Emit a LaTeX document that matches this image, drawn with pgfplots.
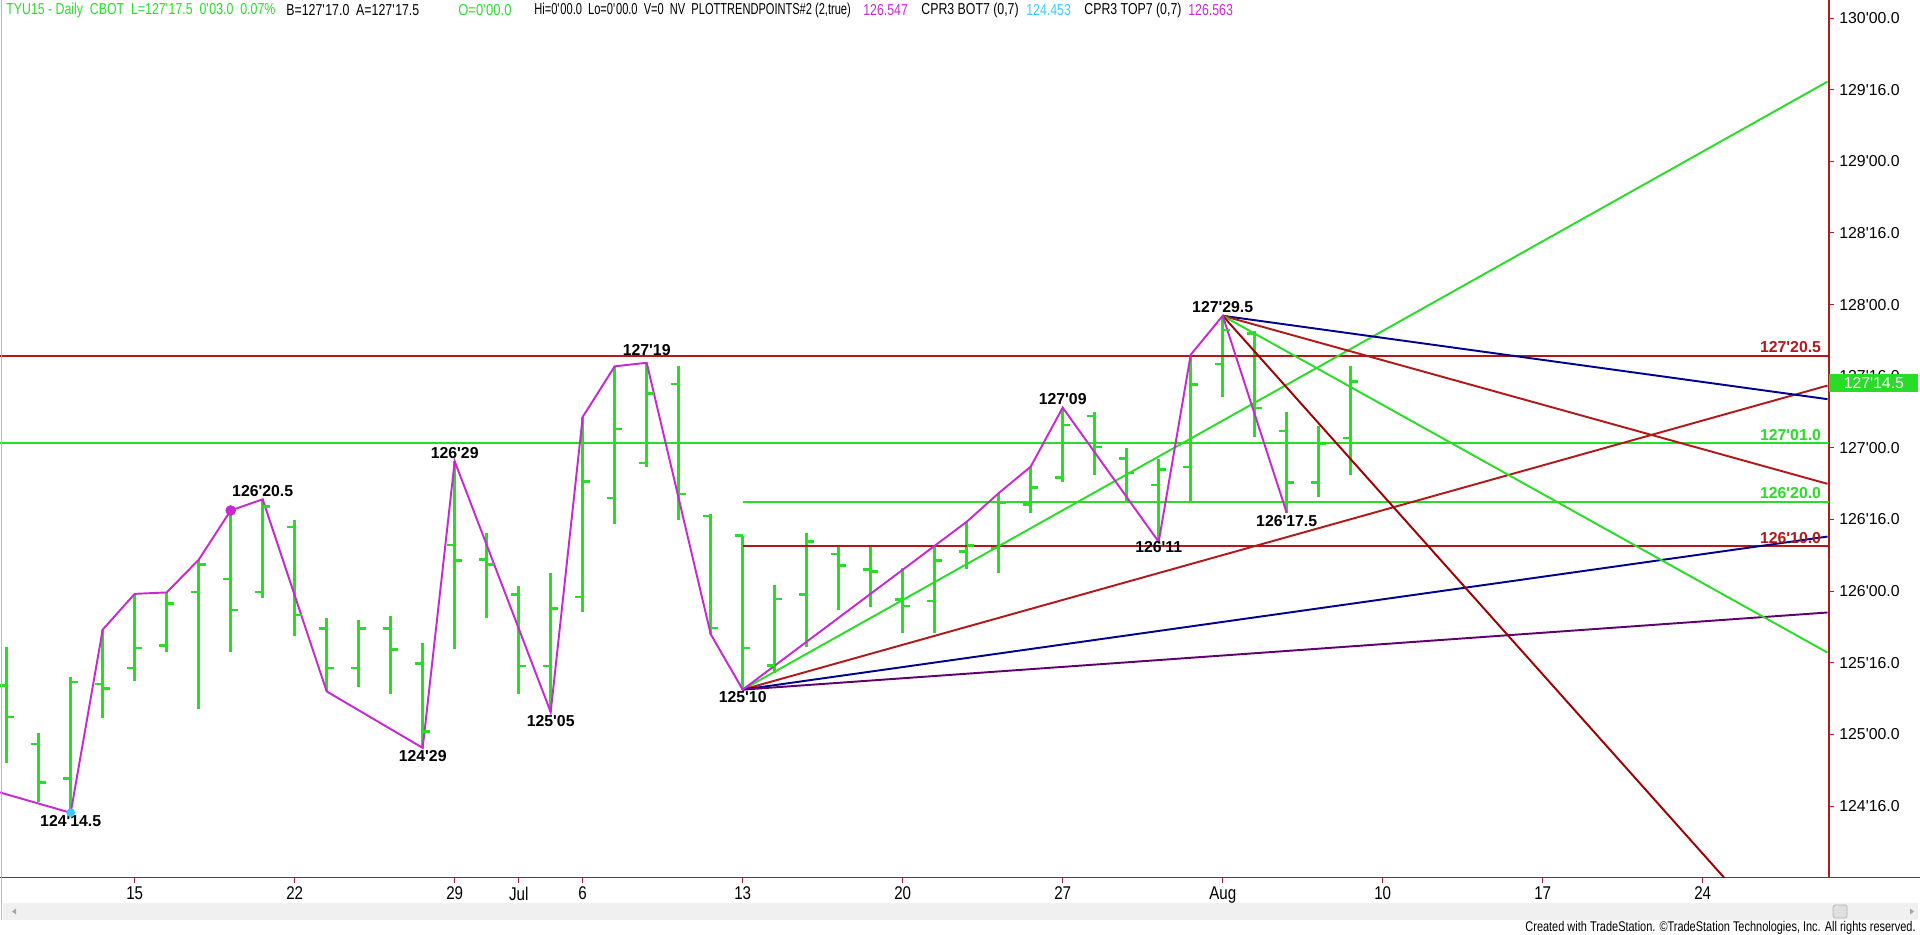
\documentclass[border=0pt]{standalone}
\usepackage{fontspec}
\setmainfont{Liberation Sans}
\newfontfamily\narrow[FakeStretch=0.82]{Liberation Sans}
\newfontfamily\ttlfont[FakeStretch=0.78]{Liberation Sans}
\newfontfamily\ttlfontn[FakeStretch=0.70]{Liberation Sans}
\usepackage{pgfplots}
\usepackage{pgfplotstable}
\pgfplotsset{compat=1.18}

\definecolor{barGreen}{RGB}{40,220,40}
\definecolor{lvlRed}{RGB}{178,24,24}
\definecolor{darkRed}{RGB}{160,0,0}
\definecolor{navyLine}{RGB}{0,0,140}
\definecolor{violetLine}{RGB}{95,0,110}
\definecolor{swing}{RGB}{200,40,210}
\definecolor{axisRed}{RGB}{170,30,30}
\definecolor{cyanDot}{RGB}{60,200,255}

\newcommand{\q}{\textquotesingle}
\tikzset{lbl/.style={font=\bfseries\fontsize{9}{10}\selectfont, inner sep=1.5pt}}

% open tick to the left, close tick to the right
\pgfdeclareplotmark{otick}{\pgfpathmoveto{\pgfqpoint{-0.15cm}{0pt}}\pgfpathlineto{\pgfqpoint{0pt}{0pt}}\pgfusepathqstroke}
\pgfdeclareplotmark{ctick}{\pgfpathmoveto{\pgfqpoint{0pt}{0pt}}\pgfpathlineto{\pgfqpoint{0.15cm}{0pt}}\pgfusepathqstroke}

% daily bars, x = trading day (0 = Jun 9)
\pgfplotstableread{
x  op      hi      lo       cl
0  125.341 125.609 124.800  125.122
1  124.934 125.013 124.531  124.666
2  124.694 125.403 124.453  125.366
3  125.353 125.731 125.113  125.322
4  125.463 125.981 125.375  125.603
5  125.619 125.991 125.578  125.916
6  125.994 126.219 125.175  126.184
7  126.084 126.563 125.578  125.869
8  125.994 126.641 125.950  126.591
9  126.447 126.494 125.688  125.834
10 125.741 125.813 125.300  125.463
11 125.463 125.800 125.331  125.741
12 125.741 125.828 125.284  125.591
13 125.494 125.638 124.906  125.022
14 126.322 126.906 125.594  126.213
15 126.222 126.403 125.813  126.184
16 125.978 126.038 125.284  125.478
17 125.478 126.125 125.156  125.881
18 125.959 127.216 125.856  126.766
19 126.650 127.569 126.469  127.131
20 126.894 127.594 126.866  127.381
21 127.447 127.572 126.494  126.678
22 126.525 126.541 125.700  125.744
23 126.388 126.388 125.3125 125.603
24 125.481 126.044 125.428  125.944
25 125.978 126.403 125.609  126.347
26 126.259 126.313 125.866  126.178
27 126.150 126.313 125.888  126.138
28 125.941 126.159 125.706  125.897
29 125.931 126.313 125.706  126.213
30 126.275 126.484 126.153  126.319
31 126.300 126.684 126.125  126.619
32 126.603 126.869 126.544  126.725
33 126.794 127.281 126.759  127.160
34 127.222 127.247 126.813  127.005
35 126.928 126.998 126.625  126.825
36 126.741 126.922 126.344  126.850
37 126.866 127.650 126.631  127.444
38 127.586 127.922 127.353  127.823
39 127.800 127.813 127.078  127.278
40 127.119 127.247 126.547  126.759
41 126.759 127.150 126.656  127.028
42 127.068 127.569 126.813  127.463
}\ohlc

% trend points line
\pgfplotstableread{
x      y
-0.209 124.595
2      124.453
3      125.731
4      125.981
5      125.991
6      126.219
7      126.563
8      126.641
10     125.300
13     124.906
14     126.906
17     125.156
18     127.216
19     127.569
20     127.594
22     125.700
23     125.3125
30     126.484
31     126.684
32     126.869
33     127.281
36     126.344
37     127.650
38     127.922
40     126.547
}\swingtab

\begin{document}
\begin{tikzpicture}
\useasboundingbox (0,0) rectangle (38.4,18.68);
\begin{axis}[
    at={(0,1.126cm)}, anchor=south west,
    scale only axis, width=36.58cm, height=17.554cm,
    xmin=-0.209, xmax=56.947, ymin=124, ymax=130.126,
    axis x line*=bottom, axis y line*=right,
    axis line style={draw=axisRed, line width=0.8pt},
    tick align=outside, major tick length=0.1cm,
    tick style={draw=axisRed, line width=0.6pt},
    ytick={124.5,125,125.5,126,126.5,127,127.5,128,128.5,129,129.5,130},
    yticklabels={124\q16.0,125\q00.0,125\q16.0,126\q00.0,126\q16.0,127\q00.0,
                 127\q16.0,128\q00.0,128\q16.0,129\q00.0,129\q16.0,130\q00.0},
    xtick={4,9,14,16,18,23,28,33,38,43,48,53},
    xticklabels={15,22,29,Jul,6,13,20,27,Aug,10,17,24},
    yticklabel style={anchor=west, inner sep=0pt, font=\fontsize{9}{10}\selectfont},
    xticklabel style={anchor=north, inner sep=0pt, font=\narrow\fontsize{10.5}{11}\selectfont},
    yticklabel shift=0.1cm, xticklabel shift=0.08cm,
    clip=false,
]
% bars
\addplot[draw=none, forget plot, error bars/.cd, y dir=plus, y explicit, error mark=none,
    error bar style={draw=barGreen, line width=1.8pt}]
    table[x=x, y=lo, y error plus expr=\thisrow{hi}-\thisrow{lo}] {\ohlc};
\addplot[barGreen, only marks, mark=otick, line width=1.5pt] table[x=x, y=op] {\ohlc};
\addplot[barGreen, only marks, mark=ctick, line width=1.5pt] table[x=x, y=cl] {\ohlc};

% levels
\addplot[lvlRed, line width=1.1pt] coordinates {(-0.209,127.6406) (56.947,127.6406)};
\addplot[barGreen, line width=1.1pt] coordinates {(-0.209,127.03125) (56.947,127.03125)};
\addplot[barGreen, line width=1.1pt] coordinates {(23,126.625) (56.947,126.625)};
\addplot[lvlRed, line width=1.1pt] coordinates {(23,126.3125) (56.947,126.3125)};

% fan from 125'10
\addplot[barGreen, line width=1.1pt] coordinates {(23,125.3125) (56.9,129.556)};
\addplot[lvlRed, line width=1.1pt] coordinates {(23,125.3125) (56.9,127.435)};
\addplot[navyLine, line width=1.1pt] coordinates {(23,125.3125) (56.9,126.381)};
\addplot[violetLine, line width=1.1pt] coordinates {(23,125.3125) (56.9,125.851)};
% fan from 127'29.5
\addplot[navyLine, line width=1.1pt] coordinates {(38,127.922) (56.9,127.340)};
\addplot[lvlRed, line width=1.1pt] coordinates {(38,127.922) (56.9,126.749)};
\addplot[barGreen, line width=1.1pt] coordinates {(38,127.922) (56.9,125.571)};
\addplot[darkRed, line width=1.1pt] coordinates {(38,127.922) (53.67,124.0)};

% trend points
\addplot[swing, line width=1.1pt] table[x=x, y=y] {\swingtab};
\addplot[swing, only marks, mark=*, mark size=2.8pt] coordinates {(7,126.563)};
\addplot[cyanDot, only marks, mark=*, mark size=2.3pt] coordinates {(2,124.453)};

% pivot labels
\node[lbl, anchor=north] at (axis cs:2,124.453) {124\q14.5};
\node[lbl, anchor=south] at (axis cs:8,126.641) {126\q20.5};
\node[lbl, anchor=north] at (axis cs:13,124.906) {124\q29};
\node[lbl, anchor=south] at (axis cs:14,126.906) {126\q29};
\node[lbl, anchor=north] at (axis cs:17,125.156) {125\q05};
\node[lbl, anchor=south, yshift=0.08cm] at (axis cs:20,127.594) {127\q19};
\node[lbl, anchor=north, yshift=0.03cm] at (axis cs:23,125.3125) {125\q10};
\node[lbl, anchor=south] at (axis cs:33,127.281) {127\q09};
\node[lbl, anchor=north, yshift=0.06cm] at (axis cs:36,126.344) {126\q11};
\node[lbl, anchor=south] at (axis cs:38,127.922) {127\q29.5};
\node[lbl, anchor=north] at (axis cs:40,126.547) {126\q17.5};

% level labels
\node[lbl, anchor=south east, text=lvlRed] at (axis cs:56.79,127.6406) {127\q20.5};
\node[lbl, anchor=south east, text=barGreen] at (axis cs:56.79,127.03125) {127\q01.0};
\node[lbl, anchor=south east, text=barGreen] at (axis cs:56.79,126.625) {126\q20.0};
\node[lbl, anchor=south east, text=lvlRed] at (axis cs:56.79,126.3125) {126\q10.0};

% last price box
\node[anchor=west, fill=barGreen, text=white, inner sep=0pt, minimum height=0.36cm,
    minimum width=1.78cm, font=\fontsize{9}{10}\selectfont] at (axis cs:56.947,127.453) {127\q14.5};
\end{axis}

\draw[axisRed, line width=0.8pt] (36.58,1.126) -- (38.4,1.126);
\draw[gray!55, line width=0.8pt] (0.03,0.28) -- (0.03,18.68);

% scroll bar
\fill[gray!12] (0.06,0.28) rectangle (38.36,0.62);
\filldraw[fill=gray!25, draw=gray!60, rounded corners=1pt] (36.66,0.32) rectangle (36.94,0.58);
\fill[gray!70] (0.24,0.45) -- (0.32,0.51) -- (0.32,0.39) -- cycle;
\fill[gray!70] (38.28,0.45) -- (38.20,0.51) -- (38.20,0.39) -- cycle;

\node[anchor=east, inner sep=0pt, font=\ttlfont\fontsize{8}{9}\selectfont] at (38.32,0.13)
    {Created with TradeStation. ©TradeStation Technologies, Inc. All rights reserved.};

% header line
\begin{scope}[every node/.style={anchor=west, inner sep=0pt, font=\ttlfont\fontsize{9}{10}\selectfont}]
\node[text=barGreen] at (0.12,18.48) {TYU15 - Daily\ \ CBOT\ \ L=127\q17.5\ \ 0\q03.0\ \ 0.07\%};
\node at (5.72,18.48) {B=127\q17.0\ \ A=127\q17.5};
\node[text=barGreen, font=\narrow\fontsize{9}{10}\selectfont] at (9.16,18.48) {O=0\q00.0};
\node[font=\ttlfontn\fontsize{9}{10}\selectfont] at (10.68,18.48) {Hi=0\q00.0\ \ Lo=0\q00.0\ \ V=0\ \ NV\ \ PLOTTRENDPOINTS\#2 (2,true)};
\node[text=swing] at (17.26,18.48) {126.547};
\node at (18.42,18.48) {CPR3 BOT7 (0,7)};
\node[text=cyanDot] at (20.52,18.48) {124.453};
\node at (21.68,18.48) {CPR3 TOP7 (0,7)};
\node[text=swing] at (23.76,18.48) {126.563};
\end{scope}
\end{tikzpicture}
\end{document}
